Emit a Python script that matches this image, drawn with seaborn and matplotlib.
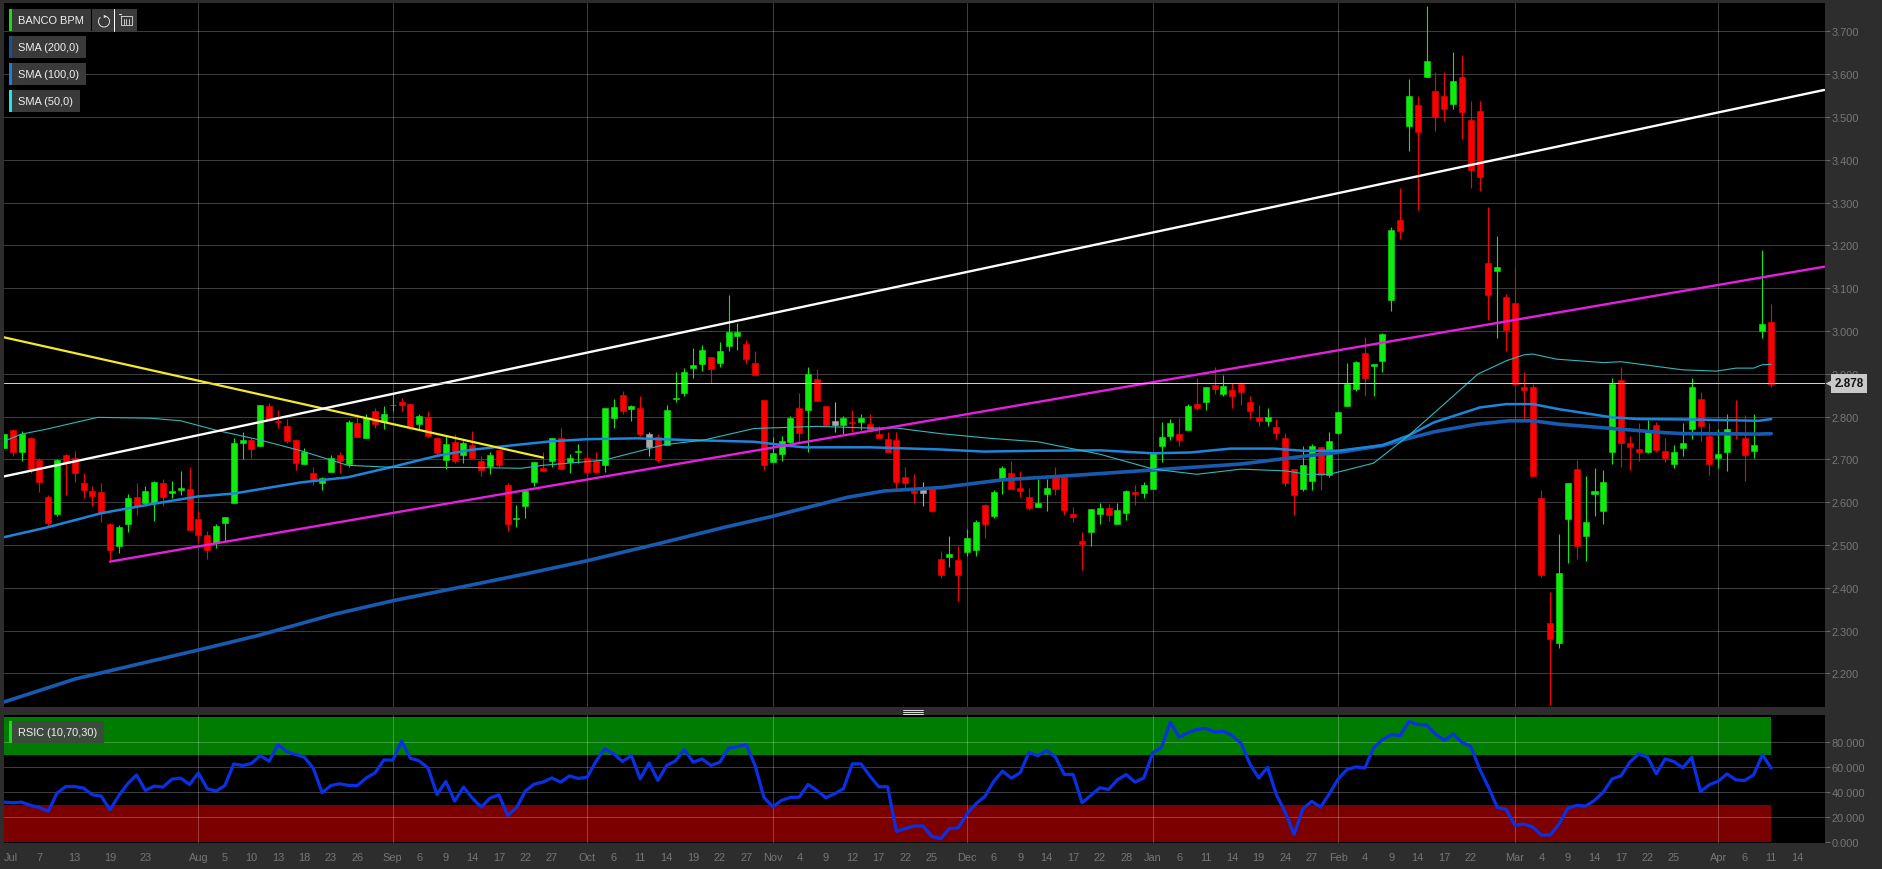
import numpy as np
import pandas as pd
import matplotlib
matplotlib.use("Agg")
import matplotlib.pyplot as plt
from matplotlib.patches import Rectangle, Arc
from matplotlib.transforms import blended_transform_factory
import seaborn as sns

# ---------- data ----------
opens = [
 2.726,2.769,2.716,2.750,2.699,2.612,2.573,2.710,2.704,2.644,
 2.626,2.624,2.550,2.498,2.550,2.611,2.597,2.598,2.644,2.622,
 2.629,2.630,2.560,2.523,2.504,2.552,2.599,2.739,2.744,2.732,
 2.825,2.789,2.777,2.745,2.689,2.669,2.644,2.670,2.711,2.689,
 2.784,2.750,2.813,2.786,2.826,2.834,2.829,2.782,2.799,2.749,
 2.698,2.741,2.711,2.733,2.696,2.685,2.721,2.640,2.560,2.590,
 2.647,2.680,2.696,2.749,2.693,2.717,2.704,2.697,2.686,2.797,
 2.850,2.818,2.819,2.760,2.751,2.734,2.840,2.854,2.913,2.922,
 2.938,2.926,2.965,2.988,2.969,2.926,2.839,2.694,2.712,2.741,
 2.819,2.816,2.887,2.825,2.780,2.781,2.788,2.787,2.783,2.759,
 2.747,2.744,2.659,2.626,2.622,2.630,2.467,2.472,2.465,2.484,
 2.489,2.593,2.567,2.651,2.669,2.634,2.611,2.588,2.618,2.658,
 2.659,2.572,2.510,2.531,2.573,2.586,2.550,2.574,2.623,2.622,
 2.631,2.731,2.755,2.759,2.769,2.830,2.835,2.873,2.853,2.861,
 2.875,2.833,2.798,2.789,2.776,2.749,2.677,2.630,2.650,2.728,
 2.664,2.762,2.825,2.864,2.949,2.918,2.930,3.073,3.259,3.479,
 3.528,3.594,3.560,3.549,3.530,3.593,3.493,3.514,3.158,3.141,
 3.080,3.065,2.869,2.868,2.609,2.317,2.271,2.561,2.677,2.521,
 2.619,2.580,2.716,2.885,2.737,2.725,2.718,2.779,2.720,2.690,
 2.727,2.770,2.840,2.755,2.703,2.716,2.764,2.749,2.720,3.000,
 3.020]
closes = [
 2.759,2.718,2.759,2.675,2.646,2.551,2.698,2.694,2.669,2.628,
 2.615,2.574,2.488,2.542,2.609,2.590,2.626,2.647,2.612,2.627,
 2.632,2.534,2.524,2.488,2.545,2.565,2.738,2.746,2.725,2.827,
 2.792,2.786,2.743,2.691,2.718,2.651,2.656,2.702,2.695,2.788,
 2.753,2.796,2.782,2.807,2.828,2.826,2.776,2.802,2.755,2.714,
 2.735,2.696,2.739,2.703,2.675,2.710,2.686,2.549,2.563,2.626,
 2.694,2.673,2.749,2.677,2.704,2.719,2.670,2.670,2.819,2.822,
 2.813,2.825,2.760,2.729,2.699,2.816,2.843,2.905,2.921,2.955,
 2.912,2.953,2.998,2.998,2.935,2.897,2.687,2.714,2.742,2.796,
 2.761,2.899,2.836,2.780,2.789,2.796,2.785,2.796,2.767,2.749,
 2.716,2.646,2.645,2.622,2.629,2.580,2.430,2.479,2.430,2.516,
 2.553,2.548,2.623,2.679,2.630,2.626,2.586,2.598,2.634,2.631,
 2.581,2.566,2.502,2.583,2.586,2.571,2.581,2.625,2.620,2.639,
 2.714,2.753,2.784,2.746,2.825,2.819,2.870,2.865,2.872,2.847,
 2.857,2.812,2.790,2.800,2.762,2.644,2.617,2.687,2.730,2.663,
 2.742,2.811,2.876,2.928,2.889,2.923,2.993,3.236,3.234,3.549,
 3.465,3.630,3.500,3.518,3.583,3.512,3.375,3.360,3.085,3.150,
 3.001,2.875,2.861,2.660,2.430,2.281,2.434,2.644,2.498,2.554,
 2.627,2.646,2.877,2.737,2.729,2.716,2.763,2.722,2.703,2.718,
 2.739,2.868,2.777,2.690,2.712,2.770,2.760,2.711,2.734,3.015,
 2.877]
highs = [
 2.759,2.770,2.767,2.753,2.702,2.616,2.700,2.712,2.719,2.667,
 2.637,2.644,2.551,2.546,2.620,2.644,2.638,2.650,2.654,2.650,
 2.672,2.682,2.579,2.533,2.548,2.565,2.749,2.764,2.749,2.827,
 2.831,2.816,2.795,2.747,2.726,2.682,2.659,2.709,2.716,2.792,
 2.805,2.805,2.819,2.825,2.856,2.844,2.831,2.805,2.812,2.750,
 2.755,2.759,2.743,2.767,2.708,2.716,2.722,2.644,2.594,2.629,
 2.694,2.716,2.749,2.774,2.712,2.735,2.716,2.718,2.819,2.840,
 2.860,2.828,2.848,2.763,2.760,2.827,2.905,2.914,2.959,2.967,
 2.938,2.975,3.083,3.019,2.979,2.953,2.839,2.751,2.755,2.802,
 2.856,2.916,2.912,2.825,2.833,2.802,2.815,2.805,2.805,2.777,
 2.764,2.763,2.681,2.665,2.646,2.630,2.486,2.521,2.498,2.537,
 2.559,2.595,2.629,2.685,2.695,2.673,2.634,2.654,2.655,2.681,
 2.659,2.588,2.529,2.583,2.597,2.595,2.599,2.629,2.640,2.647,
 2.714,2.788,2.794,2.796,2.830,2.889,2.870,2.916,2.897,2.879,
 2.881,2.847,2.826,2.819,2.795,2.761,2.677,2.730,2.735,2.728,
 2.763,2.811,2.924,2.930,2.985,2.923,2.995,3.242,3.335,3.588,
 3.548,3.760,3.606,3.606,3.651,3.644,3.538,3.536,3.289,3.221,
 3.086,3.147,2.905,2.875,2.629,2.391,2.525,2.644,2.699,2.660,
 2.679,2.675,2.889,2.916,2.755,2.784,2.791,2.788,2.749,2.734,
 2.784,2.889,2.858,2.784,2.770,2.807,2.839,2.803,2.807,3.190,
 3.063]
lows = [
 2.726,2.707,2.695,2.669,2.624,2.542,2.568,2.617,2.646,2.609,
 2.591,2.554,2.461,2.480,2.529,2.570,2.591,2.556,2.590,2.609,
 2.617,2.534,2.506,2.466,2.492,2.506,2.597,2.700,2.704,2.732,
 2.790,2.772,2.739,2.676,2.688,2.639,2.628,2.670,2.667,2.683,
 2.753,2.750,2.772,2.770,2.813,2.813,2.770,2.770,2.753,2.707,
 2.677,2.691,2.691,2.700,2.660,2.665,2.682,2.533,2.541,2.562,
 2.637,2.673,2.681,2.677,2.667,2.691,2.658,2.669,2.671,2.774,
 2.807,2.790,2.755,2.708,2.693,2.734,2.833,2.847,2.890,2.907,
 2.878,2.916,2.952,2.956,2.923,2.897,2.675,2.694,2.695,2.735,
 2.739,2.718,2.836,2.778,2.764,2.760,2.764,2.769,2.764,2.749,
 2.716,2.629,2.630,2.597,2.591,2.578,2.422,2.449,2.370,2.473,
 2.475,2.516,2.562,2.620,2.630,2.611,2.581,2.588,2.579,2.617,
 2.570,2.553,2.442,2.498,2.550,2.555,2.550,2.559,2.593,2.609,
 2.631,2.693,2.745,2.730,2.769,2.815,2.815,2.852,2.847,2.821,
 2.826,2.794,2.777,2.777,2.747,2.638,2.570,2.626,2.629,2.628,
 2.658,2.759,2.825,2.860,2.847,2.847,2.903,3.047,3.215,3.421,
 3.282,3.594,3.466,3.491,3.518,3.448,3.333,3.326,3.026,2.984,
 2.953,2.875,2.794,2.660,2.424,2.125,2.258,2.457,2.467,2.463,
 2.568,2.550,2.690,2.683,2.675,2.695,2.714,2.716,2.693,2.679,
 2.708,2.747,2.742,2.663,2.679,2.673,2.747,2.650,2.704,2.984,
 2.869]
gray_candles = [73, 94, 104]

sma200_idx = [0,8.1,21.9,28.7,37.4,44.1,52.8,59.2,66,73.9,81.5,87,95.4,99.6,106,113,120,130,140,147,151,156,159,161.8,166.7,170.4,173,176,182,187.4,190,198.6,200]
sma200_val = [2.133,2.187,2.254,2.288,2.338,2.370,2.406,2.433,2.463,2.502,2.541,2.567,2.611,2.626,2.634,2.652,2.661,2.675,2.689,2.707,2.716,2.732,2.749,2.764,2.782,2.790,2.790,2.782,2.772,2.763,2.760,2.759,2.760]
sma100_idx = [0,4.9,11,16.6,21.9,26,33.6,38.9,44.1,49,52.8,57.7,61.9,66,71.7,77.3,84.9,88.6,90.5,98,106,110.9,117.3,124,130,134.3,138.8,143.7,147,151,156,159,161.8,167,170,173,176,182,185,191,198.6,200]
sma100_val = [2.518,2.541,2.574,2.595,2.613,2.620,2.646,2.658,2.683,2.708,2.722,2.733,2.742,2.747,2.749,2.745,2.741,2.732,2.728,2.728,2.723,2.718,2.720,2.721,2.714,2.716,2.725,2.725,2.720,2.720,2.733,2.756,2.786,2.821,2.829,2.829,2.817,2.798,2.794,2.793,2.790,2.794]
sma50_idx = [0,2,4.5,10.6,16.6,20,24.2,29,33.6,38.9,44.1,52.8,58.5,61,67.9,74.7,79.2,84.9,92,98,101,106,111.6,117,124,130.1,135,140,145,147.5,150,155,159,166.8,170,172,173,175.7,181,183,190,193.8,196,198,199,200]
sma50_val = [2.742,2.759,2.769,2.798,2.796,2.790,2.767,2.745,2.720,2.686,2.681,2.681,2.679,2.686,2.698,2.734,2.745,2.772,2.777,2.773,2.773,2.760,2.749,2.741,2.712,2.677,2.665,2.677,2.673,2.665,2.665,2.691,2.756,2.899,2.930,2.944,2.946,2.934,2.926,2.928,2.909,2.906,2.913,2.913,2.921,2.922]

white_idx, white_val = [0, 206], [2.660, 3.563]
magenta_idx, magenta_val = [12, 206], [2.461, 3.150]
yellow_idx, yellow_val = [0, 61], [2.985, 2.704]
last_price = 2.878

rsi = [
 32.1,31.6,32.1,29.5,27.9,24.7,39.3,44.6,44.6,43.3,
 38.0,36.9,26.0,37.4,46.8,53.9,41.4,44.9,44.1,50.5,
 51.3,46.2,55.5,42.8,40.9,45.4,62.7,61.4,63.0,69.4,
 64.8,78.1,72.6,70.2,68.0,59.3,39.6,45.4,46.8,45.4,
 45.4,51.5,55.5,65.9,65.6,80.8,67.2,65.1,59.3,38.2,
 48.6,32.9,44.1,35.3,28.1,35.3,38.0,21.5,27.6,40.9,
 46.5,48.1,51.5,48.1,53.1,51.0,52.1,64.8,74.7,70.7,
 64.6,69.4,50.7,63.5,49.4,61.4,65.1,74.1,64.0,66.7,
 61.4,64.0,75.2,76.5,78.1,61.4,35.9,28.4,33.5,35.9,
 36.1,46.2,41.4,35.6,38.8,42.8,62.7,62.7,52.9,44.4,
 44.4,8.7,10.9,13.0,13.0,4.7,2.9,10.9,11.6,22.8,
 30.8,36.6,48.6,56.9,51.3,55.5,72.0,69.1,73.4,68.0,
 54.2,54.2,31.6,37.4,43.6,42.2,49.9,54.2,48.1,51.5,
 71.5,76.0,96.0,84.0,87.7,90.1,91.2,88.2,88.8,85.3,
 79.2,62.7,51.3,60.0,38.0,24.1,6.3,26.8,32.7,28.1,
 38.8,50.7,58.2,60.3,59.3,75.5,82.1,86.1,85.3,96.5,
 94.1,93.9,86.6,81.6,86.6,80.0,76.5,58.7,44.0,27.9,
 26.3,13.5,14.6,12.2,5.8,5.8,14.8,27.3,29.5,28.9,
 33.5,40.1,50.7,53.1,64.0,70.7,68.0,54.7,66.7,64.6,
 59.5,68.0,40.6,46.0,48.9,54.7,49.9,49.4,53.9,69.9,
 59.3]

tick_idx = [0,4,8,12,16,22,25,28,31,34,37,40,44,47,50,53,56,59,62,66,69,72,75,78,81,84,87,90,93,96,99,102,105,
            109,112,115,118,121,124,127,130,133,136,139,142,145,148,151,154,157,160,163,166,171,174,177,180,183,186,189,194,197,200,203]
tick_txt = ["Jul","7","13","19","23","Aug","5","10","13","18","23","26","Sep","6","9","14","17","22","27","Oct","6","11","14","19","22","27","Nov","4","9","12","17","22","25",
            "Dec","6","9","14","17","22","28","Jan","6","11","14","19","24","27","Feb","4","9","14","17","22","Mar","4","9","14","17","22","25","Apr","6","11","14"]
month_idx = [22,44,66,87,109,130,151,171,194]
price_ticks = [2.2,2.3,2.4,2.5,2.6,2.7,2.8,2.9,3.0,3.1,3.2,3.3,3.4,3.5,3.6,3.7]
rsi_ticks = [0,20,40,60,80]
legend_main = ["BANCO BPM","SMA (200,0)","SMA (100,0)","SMA (50,0)"]

# ---------- styles ----------
BG, PANEL = "#2d2d2d", "#000000"
TXT = "#767676"
GREEN, RED, GREY = "#0eec0e", "#fb0000", "#a8a8a8"
C200, C100, C50 = "#175bb0", "#1c86dc", "#2fb8bc"

sns.set_theme(style="dark", rc={"axes.facecolor": PANEL, "figure.facecolor": BG,
                                "axes.grid": False, "axes.edgecolor": BG})
plt.rcParams["font.family"] = ["Liberation Sans", "DejaVu Sans"]
FS = 7.9

W, H = 1882, 870
fig = plt.figure(figsize=(W/100, H/100), dpi=100)
L, R = 4, 1825
ax = fig.add_axes([L/W, 1-708/H, (R-L)/W, 704/H])
axr = fig.add_axes([L/W, 1-844/H, (R-L)/W, 128/H], sharex=ax)

df = pd.DataFrame({"o": opens, "h": highs, "l": lows, "c": closes})
df["i"] = np.arange(len(df))
df["top"] = df[["o", "c"]].max(axis=1)
df["bot"] = df[["o", "c"]].min(axis=1)
df["col"] = np.where(df.c >= df.o, GREEN, RED)
df.loc[gray_candles, "col"] = GREY

GA, GW = 0.24, 0.72
for a in (ax, axr):
    for m in month_idx:
        a.axvline(m, color="#ffffff", alpha=GA, lw=GW, zorder=1.5)
    for s in a.spines.values():
        s.set_visible(False)
for p in price_ticks:
    ax.axhline(p, color="#ffffff", alpha=GA, lw=GW, zorder=1)
for r_ in rsi_ticks[1:]:
    axr.axhline(r_, color="#ffffff", alpha=GA, lw=GW, zorder=1.5)

# candles
ax.vlines(df.i, df.l, df.h, colors=df.col, lw=0.8, zorder=2)
ax.bar(df.i, df.top-df.bot, bottom=df.bot, width=0.68, color=df.col, edgecolor=df.col, lw=0.4, zorder=2.5)

def line(a, xs, ys, **kw):
    sns.lineplot(x=xs, y=ys, ax=a, estimator=None, sort=False, legend=False, **kw)

line(ax, sma200_idx, sma200_val, color=C200, lw=2.6, zorder=3)
line(ax, sma100_idx, sma100_val, color=C100, lw=1.8, zorder=3.1)
line(ax, sma50_idx, sma50_val, color=C50, lw=0.8, zorder=3.2)
line(ax, yellow_idx, yellow_val, color="#f4ea2a", lw=1.6, zorder=3.3)
line(ax, white_idx, white_val, color="#ffffff", lw=1.7, zorder=3.4)
line(ax, magenta_idx, magenta_val, color="#e61ee0", lw=1.7, zorder=3.5)
ax.axhline(last_price, color="#d0d0d0", lw=0.72, zorder=3.6)

xl = ((L-3.2)/8.84, (R-3.2)/8.84)
ax.set_xlim(*xl)
ax.set_ylim(3.7-(708-32.3)/428, 3.7+(32.3-4)/428)
ax.set_yticks(price_ticks, [f"{p:.3f}" for p in price_ticks])
ax.yaxis.tick_right()
ax.tick_params(axis="y", labelsize=FS, length=3.6, width=0.72, pad=1, labelcolor=TXT, color="#666666")
ax.tick_params(axis="x", length=0, labelbottom=False)
ax.set_xlabel(""); ax.set_ylabel("")

# last price flag
tr = blended_transform_factory(ax.transAxes, ax.transData)
ax.text(1.0052, last_price, f"{last_price:.3f}", transform=tr, ha="left", va="center", fontsize=8.4,
        fontweight="bold", color="#111111", zorder=10, clip_on=False,
        bbox=dict(boxstyle="square,pad=0.3", fc="#c9c9c9", ec="none"))
ax.plot([1.0018], [last_price], marker="<", ms=4.5, color="#c9c9c9", mec="none", transform=tr, clip_on=False, zorder=10)

# RSI panel
axr.axhspan(70, 100, xmin=0, xmax=(200-xl[0])/(xl[1]-xl[0]), color="#007d00", lw=0, zorder=1)
axr.axhspan(0, 30, xmin=0, xmax=(200-xl[0])/(xl[1]-xl[0]), color="#7d0000", lw=0, zorder=1)
line(axr, df.i.values, rsi, color="#0a30e6", lw=2.3, zorder=3)
axr.set_xlim(*xl)
axr.set_ylim(-0.6, 101.8)
axr.set_yticks(rsi_ticks, [f"{v:.3f}" for v in rsi_ticks])
axr.yaxis.tick_right()
axr.set_xticks(tick_idx, tick_txt)
axr.tick_params(axis="y", labelsize=FS, length=3.6, width=0.72, pad=1, labelcolor=TXT, color="#666666")
axr.tick_params(axis="x", labelsize=FS, length=2, width=0.72, pad=4.5, labelcolor=TXT, color="#666666")
axr.get_xticklabels()[0].set_ha("left")
axr.set_xlabel(""); axr.set_ylabel("")

# chrome overlay in pixel space
ov = fig.add_axes([0, 0, 1, 1], zorder=20)
ov.set_xlim(0, W); ov.set_ylim(H, 0); ov.axis("off"); ov.patch.set_alpha(0)

def tag(x0, x1, y0, y1, bar, text, fc="#3a3a3a"):
    ov.add_patch(Rectangle((x0, y0), x1-x0, y1-y0, fc=fc, ec="none"))
    ov.add_patch(Rectangle((x0, y0), 3, y1-y0, fc=bar, ec="none"))
    ov.text(x0+9, (y0+y1)/2+0.3, text, color="#f0f0f0", fontsize=FS, va="center", ha="left")

tag(9, 91, 10, 32, "#12e012", legend_main[0])
tag(9, 86, 37, 59, "#1a4f9c", legend_main[1])
tag(9, 86, 64, 86, "#1a80dc", legend_main[2])
tag(9, 80, 91, 113, "#1ee6ee", legend_main[3])
tag(9, 104, 722, 744, "#12e012", "RSIC (10,70,30)", fc="#3c4c3c")

# refresh / history buttons
ov.add_patch(Rectangle((92, 10), 22, 22, fc="#3a3a3a", ec="none"))
ov.add_patch(Rectangle((115, 10), 22, 22, fc="#3a3a3a", ec="none"))
ov.plot([114.5, 114.5], [10, 32], color="white", lw=0.72)
ov.add_patch(Arc((104, 22.5), 11, 11, theta1=-70, theta2=230, color="#e0e0e0", lw=0.7))
ov.plot([105.5], [17], marker=">", ms=2.5, color="#e0e0e0", mec="none")
ov.plot([121, 132, 132, 121, 121], [17, 17, 26, 26, 17], color="#e0e0e0", lw=0.6)
ov.plot([119, 121], [15, 15], color="#e0e0e0", lw=0.8)
for xb in (124, 126.5, 129):
    ov.plot([xb, xb], [20, 25], color="#e0e0e0", lw=0.6)

# divider handle
for yh in (711, 713, 715):
    ov.plot([903, 923], [yh, yh], color="white", lw=0.6)

fig.savefig("out.png", dpi=100, facecolor=BG)
